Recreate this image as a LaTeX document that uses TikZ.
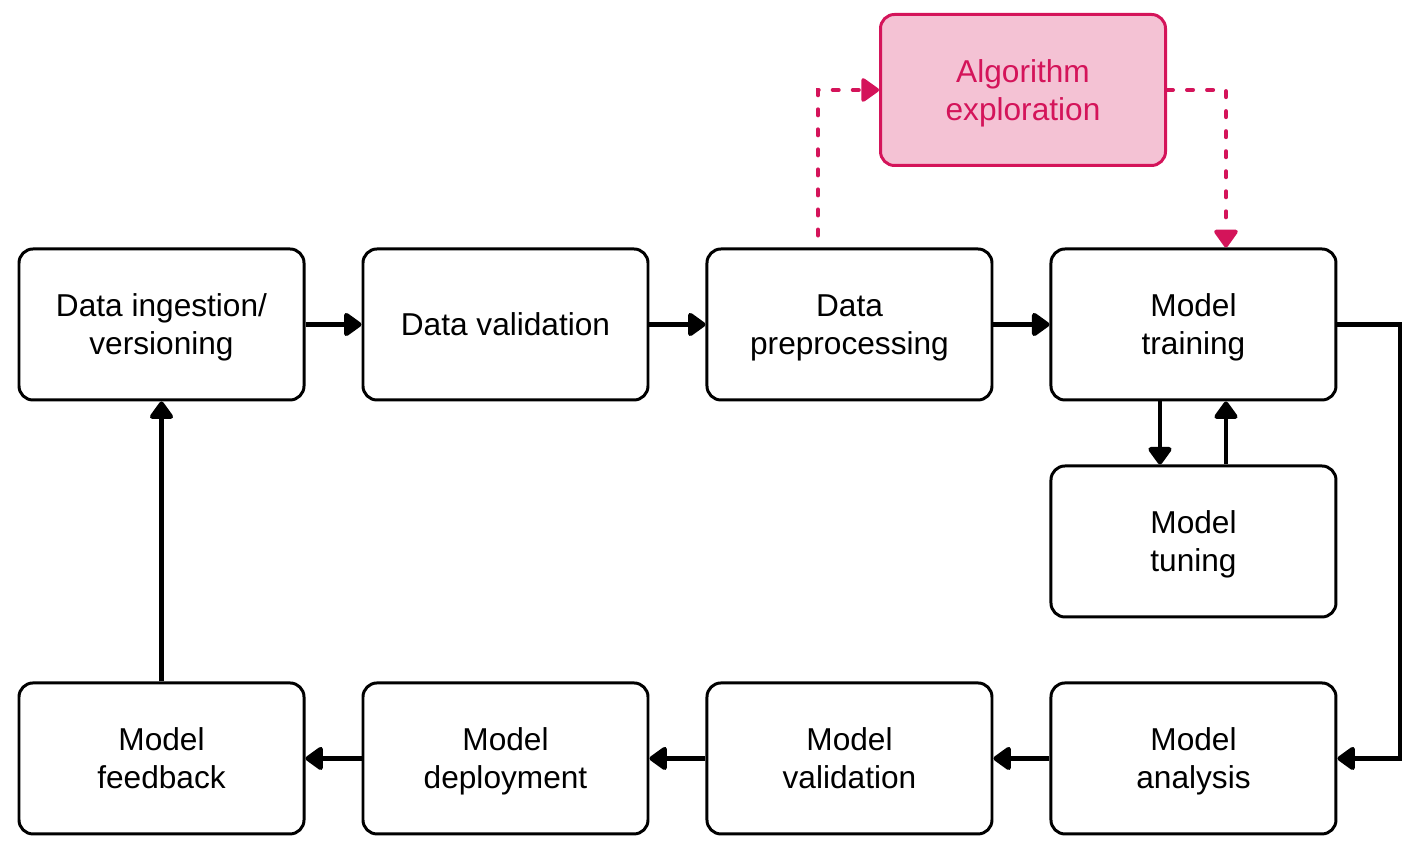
\documentclass[tikz,border=0pt]{standalone}
\usepackage{fontspec}
\setmainfont{Liberation Sans}
\usepackage{tikz}
\usetikzlibrary{positioning,arrows.meta}
\definecolor{algoline}{HTML}{D4145A}
\definecolor{algofill}{HTML}{F4C2D4}

\begin{document}
\begin{tikzpicture}[
	stage/.style={draw, line width=0.85pt, rounded corners=0.14cm, minimum width=2.85cm,
		minimum height=1.51cm, align=center, text depth=0pt,
		font=\fontsize{9}{10.8}\selectfont},
	algo/.style={stage, draw=algoline, fill=algofill, text=algoline},
	flow/.style={line width=1.35pt, -{Triangle[length=5.5pt,width=7.5pt,round]}},
	explore/.style={algoline, line width=1.15pt, dash pattern=on 1.7pt off 4pt, line cap=round,
		-{Triangle[length=5.5pt,width=7.5pt,round]}},
	node distance=0.63cm and 0.56cm]
		\useasboundingbox (0,0) rectangle (14.15,8.49);
		%----------------------------------------------------
		% Stages of the pipeline, top row and bottom row
		%----------------------------------------------------
		\node[stage] (ingest) at (1.615,5.245) {Data ingestion/\\versioning};
		\node[stage, right=of ingest] (dvalid) {Data validation};
		\node[stage, right=of dvalid] (prep) {Data\\preprocessing};
		\node[stage, right=of prep] (train) {Model\\training};
		\node[stage, below=of train] (tune) {Model\\tuning};
		\node[stage, below=of tune] (analysis) {Model\\analysis};
		\node[stage, left=of analysis] (mvalid) {Model\\validation};
		\node[stage, left=of mvalid] (deploy) {Model\\deployment};
		\node[stage, left=of deploy] (feedback) {Model\\feedback};
		\node[algo] (algo) at (10.23,7.59) {Algorithm\\exploration};
		
		%----------------------------------------------------
		% Main flow
		%----------------------------------------------------
		\draw[flow] (ingest) -- (dvalid);
		\draw[flow] (dvalid) -- (prep);
		\draw[flow] (prep) -- (train);
		\draw[flow] ([xshift=-0.335cm]train.south) -- ([xshift=-0.335cm]tune.north);
		\draw[flow] ([xshift=0.325cm]tune.north) -- ([xshift=0.325cm]train.south);
		\coordinate (turn) at (14.0,5.245);
		\draw[flow] (train.east) -- (turn) |- (analysis.east);
		\draw[flow] (analysis) -- (mvalid);
		\draw[flow] (mvalid) -- (deploy);
		\draw[flow] (deploy) -- (feedback);
		\draw[flow] (feedback) -- (ingest);
		
		%----------------------------------------------------
		% Side loop through algorithm exploration
		%----------------------------------------------------
		\coordinate (out) at ([xshift=-0.315cm,yshift=0.12cm]prep.north);
		\draw[explore] (out) |- (algo.west);
		\coordinate (back) at ([xshift=0.325cm]train.north);
		\draw[explore] (algo.east) -| (back);
	\end{tikzpicture}
\end{document}
